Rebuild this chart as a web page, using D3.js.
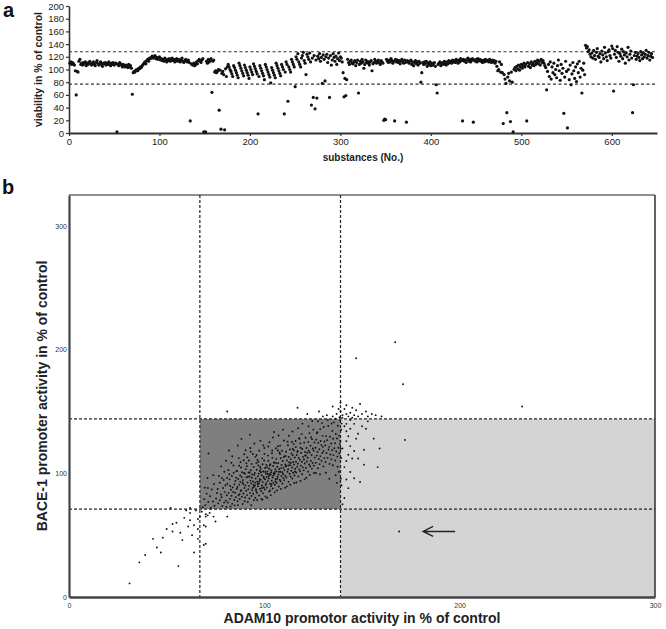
<!DOCTYPE html>
<html><head><meta charset="utf-8">
<script src="https://cdn.jsdelivr.net/npm/d3@7"></script>
<style>body{margin:0;background:#fff}svg{display:block;font-family:"Liberation Sans",Arial,sans-serif}</style>
</head><body><svg id="c" width="666" height="629"></svg>
<script>
// ---------- Panel a data ----------
const viability = [
110,112,108,111,109,107,98,60,97,96,113,116,108,110,107,111,109,112,106,110,
108,111,113,109,107,110,112,108,106,111,114,109,107,110,112,108,105,110,109,111,
107,110,108,112,109,106,110,108,111,107,109,110,2,108,106,111,109,107,104,108,
106,104,107,105,103,108,104,106,102,61,95,97,96,99,100,98,102,101,104,103,
106,108,110,112,109,114,116,113,118,117,119,121,118,120,122,117,119,116,118,120,
115,117,114,116,113,118,115,112,116,114,117,113,115,118,114,116,112,115,117,113,
114,116,112,115,118,113,111,114,116,113,112,115,111,19,109,108,107,110,106,108,
112,109,114,116,113,111,115,117,2,1,2,113,110,116,112,114,117,64,113,115,
96,98,95,97,100,36,99,6,94,97,92,5,101,89,104,
108,104,100,97,93,89,106,103,99,95,91,87,110,106,102,98,94,90,107,103,99,95,91,86,104,
100,96,92,109,105,101,97,93,30,89,106,102,98,94,90,84,108,104,100,96,92,88,79,103,99,
95,91,87,110,106,102,98,94,90,108,104,100,30,96,112,108,50,104,100,96,116,112,108,104,73,
120,116,125,112,108,104,118,122,127,114,110,92,124,120,116,126,112,44,118,56,122,38,115,55,121,
117,125,113,119,78,123,116,82,120,124,111,118,56,122,107,115,125,119,113,121,108,117,126,114,120,
118,112,95,57,86,59,84,116,111,108,113,115,110,109,112,114,106,111,115,63,108,113,110,116,112,
102,108,115,111,113,110,107,112,114,98,109,111,116,113,110,112,115,111,108,114,112,110,20,22,21,
116,113,111,115,112,117,114,110,113,19,116,112,115,111,114,109,113,116,112,110,115,111,17,114,112,
110,113,115,108,112,106,111,114,109,112,107,113,110,80,95,111,108,112,109,113,105,110,108,112,106,
110,107,109,111,105,76,63,108,110,112,106,109,111,108,113,110,107,112,109,114,111,113,110,115,112,
114,111,116,113,110,115,112,117,114,19,116,113,115,111,116,118,113,116,112,114,117,17,115,113,116,
112,117,114,116,113,115,111,114,112,116,113,115,114,112,116,113,111,115,112,114,110,113,105,98,100,
112,96,108,95,15,92,85,78,32,88,94,82,18,96,80,2,100,103,98,105,101,107,99,104,108,
102,106,110,104,108,19,111,105,109,103,112,107,110,106,113,108,111,115,109,113,107,116,111,114,110,
106,103,68,97,108,89,112,85,104,95,110,92,100,87,106,115,98,83,108,94,102,31,88,113,97,
8,100,84,107,76,93,111,98,86,104,81,109,95,113,88,102,63,99,110,92,138,134,136,128,131,
124,120,126,118,130,122,116,127,133,121,119,125,112,129,123,117,135,126,120,114,128,131,122,118,137,
133,66,124,130,119,136,127,113,125,121,132,117,128,123,110,126,120,135,115,124,129,118,32,76,122,
127,116,121,125,119,114,128,123,117,126,120,124,130,118,122,127,115,121,125,119
];
const viabilityCutoffs = [77, 128];
const viaYTicks = [0,20,40,60,80,100,120,140,160,180,200];
const subXTicks = [0,100,200,300,400,500,600];

// ---------- Panel b data: [ADAM10 %, BACE-1 %] ----------
const clusterPoints = [
[68.4,72.5],[69.2,79.1],[69.8,74.3],[70.5,83.6],[71.3,76.8],[71.1,88.2],[72.6,71.9],[72.2,81.4],[73.7,77.2],[73.1,86.9],[74.5,73.8],[74.2,91.3],[75.3,79.6],[75.8,84.1],[70.9,96.2],[71.4,116],[69.5,88.4],[73.9,98.5],
[76.4,75.7],[76.1,87.3],[77.3,78.2],[77.8,82.9],[77.2,92.4],[78.5,73.6],[78.1,80.7],[78.9,88.1],[79.4,76.3],[79.7,84.8],[79.2,94.6],[80.3,77.9],[80.8,82.2],[80.1,90.4],[76.7,97.9],[78.3,96.1],[80.6,72.8],[79.5,101.3],[77.9,105.6],[80.4,110.2],
[81.3,76.4],[81.7,84.2],[81.1,91.6],[82.4,79.3],[82.9,86.7],[82.2,95.1],[83.5,75.3],[83.2,81.9],[83.8,88.6],[83.4,97.8],[84.6,78.4],[84.1,84.9],[84.7,91.2],[84.3,100.4],[85.4,80.6],[85.9,87.4],[85.2,93.8],[81.6,102.7],[82.7,73.2],[83.1,108.5],[84.8,74.1],[85.6,96.5],[82.5,89.7],[80.9,96.3],[85.1,84.2],[84.2,106.3],[83.6,113.8],[81.9,118.4],[85.7,101.9],[82.1,99.2],
[86.3,77.5],[86.8,82.3],[86.2,88.9],[86.6,95.4],[86.1,101.8],[87.4,79.2],[87.9,85.6],[87.2,90.7],[87.6,98.3],[87.1,106.2],[88.5,81.1],[88.2,86.4],[88.8,92.6],[88.4,97.1],[88.9,75.2],[89.3,83.7],[89.8,88.2],[89.1,94.5],[89.6,100.3],[89.4,110.6],[90.2,80.4],[90.7,85.9],[90.3,90.2],[90.9,96.7],[90.5,103.4],[86.9,112.3],[88.1,104.7],[87.7,93.1],[89.9,77.4],[90.4,118.6],[86.5,74.3],[88.6,100.9],[89.2,91.3],[90.1,99.6],[87.3,83.2],[86.4,122.5],[88.3,127.8],[90.8,108.1],[89.7,115.4],[87.8,109.2],
[91.2,82.4],[91.8,87.1],[91.4,92.6],[91.6,97.3],[91.1,105.8],[92.3,79.6],[92.7,84.2],[92.2,89.8],[92.9,94.1],[92.5,100.7],[92.1,110.3],[93.4,81.7],[93.8,86.3],[93.2,91.9],[93.6,96.4],[93.1,102.5],[93.9,88.2],[94.3,83.5],[94.7,88.9],[94.2,93.4],[94.8,98.7],[94.5,105.2],[94.1,115.6],[95.4,80.3],[95.8,85.7],[95.2,90.1],[95.6,95.8],[95.1,100.2],[95.9,108.4],[91.5,76.8],[93.3,74.2],[94.6,78.3],[92.8,120.4],[95.3,92.5],[93.7,99.1],[91.9,100.6],[94.4,90.7],[95.7,87.2],[92.4,97.4],[93.5,107.6],[91.3,112.9],[94.9,124.1],[92.6,131.2],[95.5,113.3],[93.0,117.5],
[96.2,84.3],[96.8,89.6],[96.4,93.2],[96.7,97.5],[96.1,102.9],[96.5,110.7],[97.3,82.1],[97.8,87.4],[97.2,91.8],[97.6,95.3],[97.1,99.7],[97.9,105.2],[98.4,85.5],[98.8,90.2],[98.2,94.7],[98.6,98.4],[98.1,103.6],[98.9,112.1],[99.3,83.8],[99.7,88.5],[99.2,92.9],[99.8,96.1],[99.4,101.5],[99.1,107.3],[100.2,86.9],[100.7,90.6],[100.3,95.2],[100.8,99.8],[100.4,104.3],[100.1,115.7],[96.3,78.4],[98.5,79.2],[100.6,81.3],[97.4,118.2],[99.5,122.6],[96.9,106.4],[98.3,100.8],[99.6,97.3],[100.9,92.1],[97.5,93.6],[98.7,88.1],[99.9,110.4],[100.5,101.2],[96.6,91.4],[97.7,101.9],[98.0,126.3],[96.0,114.8],[100.0,120.5],[99.0,78.6],[97.0,109.1],
[101.3,88.4],[101.8,93.7],[101.2,97.1],[101.6,101.4],[101.1,106.8],[102.4,85.2],[102.9,91.5],[102.2,95.9],[102.7,99.3],[102.5,103.7],[102.1,110.2],[103.4,89.6],[103.8,94.1],[103.2,98.8],[103.6,102.3],[103.1,107.4],[103.9,116.2],[104.3,87.7],[104.7,92.3],[104.2,96.6],[104.8,100.1],[104.5,105.9],[104.1,112.5],[105.4,90.8],[105.8,95.3],[105.2,99.4],[105.6,103.2],[105.1,108.7],[105.9,120.3],[101.5,80.2],[103.3,82.4],[105.3,84.6],[102.6,125.1],[104.4,128.9],[101.9,114.3],[103.5,100.6],[104.6,98.2],[105.7,93.5],[102.3,97.8],[101.4,104.9],[103.7,91.2],[104.9,108.6],[105.5,101.1],[102.8,106.3],[101.7,99.5],[104.0,118.4],[102.0,121.7],[105.0,133.4],[103.0,86.1],
[106.3,92.4],[106.8,97.2],[106.2,101.6],[106.6,105.3],[106.1,111.7],[107.4,89.3],[107.9,94.8],[107.2,99.1],[107.6,103.5],[107.1,108.2],[107.8,116.9],[108.3,93.6],[108.7,97.9],[108.2,101.3],[108.8,106.7],[108.4,112.2],[108.1,122.4],[109.3,91.7],[109.7,96.2],[109.2,100.8],[109.8,104.4],[109.4,109.9],[109.1,118.3],[110.2,94.5],[110.7,98.1],[110.3,102.6],[110.8,107.2],[110.4,113.8],[110.1,126.5],[106.4,86.2],[108.5,87.4],[110.6,88.3],[107.3,130.6],[109.5,135.2],[106.9,118.7],[108.6,104.2],[109.6,99.4],[110.9,105.7],[107.5,101.3],[106.5,95.6],[108.0,115.7],[107.0,121.9],[109.9,113.1],[106.0,108.4],
[111.3,96.7],[111.8,101.2],[111.2,105.8],[111.6,110.3],[111.1,117.4],[112.4,93.1],[112.9,99.6],[112.2,103.3],[112.7,108.9],[112.5,113.2],[112.1,122.7],[113.4,97.4],[113.8,102.1],[113.2,106.6],[113.6,111.5],[113.1,119.3],[114.3,95.8],[114.7,100.4],[114.2,104.7],[114.8,109.2],[114.5,114.6],[114.1,125.3],[115.4,98.2],[115.8,103.7],[115.2,107.1],[115.6,112.8],[115.1,118.5],[111.5,89.4],[113.3,90.7],[115.3,92.2],[112.6,130.4],[114.4,133.8],[111.9,125.6],[113.5,108.3],[115.7,101.5],[114.6,119.7],[112.3,106.4],[113.9,116.1],[111.0,113.9],[115.0,123.6],
[116.3,100.6],[116.8,105.4],[116.2,109.3],[116.6,114.8],[116.1,121.2],[117.4,97.5],[117.9,103.2],[117.2,107.8],[117.6,112.4],[117.1,118.1],[117.8,128.3],[118.3,101.7],[118.7,106.2],[118.2,110.9],[118.8,116.5],[118.4,124.2],[119.3,99.2],[119.7,104.8],[119.2,109.4],[119.8,113.3],[119.4,119.6],[119.1,131.7],[120.2,102.4],[120.7,107.9],[120.3,111.2],[120.8,117.3],[120.4,124.8],[116.4,92.6],[118.5,93.8],[120.6,95.1],[117.3,136.4],[119.5,140.2],[118.6,120.7],[116.9,117.2],[120.9,114.5],[118.0,127.9],[116.0,126.1],
[121.3,104.3],[121.8,109.6],[121.2,114.2],[121.6,120.4],[121.1,128.7],[122.4,101.3],[122.9,107.2],[122.2,112.6],[122.7,118.3],[122.5,125.4],[123.4,105.7],[123.8,110.1],[123.2,116.8],[123.6,122.3],[123.1,132.5],[124.3,103.8],[124.7,108.4],[124.2,114.9],[124.8,120.1],[124.4,127.6],[125.3,106.2],[125.8,112.7],[125.2,118.4],[125.6,124.9],[125.1,135.3],[121.5,96.4],[123.3,98.7],[125.4,100.2],[122.6,138.1],[124.5,142.3],[121.9,116.7],[123.9,129.2],
[126.3,108.5],[126.8,114.3],[126.2,120.7],[126.6,127.2],[127.4,104.1],[127.9,111.6],[127.2,117.3],[127.6,124.6],[127.1,133.2],[128.3,107.4],[128.7,113.9],[128.2,119.5],[128.8,126.1],[129.3,110.2],[129.7,116.4],[129.2,122.8],[129.8,130.3],[130.2,105.6],[130.7,112.3],[130.3,118.1],[130.8,125.7],[130.4,137.4],[126.4,100.3],[128.5,99.2],[129.5,140.6],[127.5,142.1],[126.9,132.4],[128.6,135.7],[130.0,121.4],
[131.3,109.2],[131.8,116.4],[131.2,122.7],[131.6,130.1],[132.4,112.5],[132.9,119.3],[132.2,126.8],[132.7,138.2],[133.4,107.6],[133.8,115.2],[133.2,121.4],[133.6,129.5],[134.3,111.3],[134.7,118.6],[134.2,124.1],[134.8,134.3],[135.4,114.7],[135.8,120.2],[135.2,127.9],[135.6,141.2],[131.5,100.4],[133.3,95.6],[132.5,143.1],[134.4,140.3],[135.1,106.5],
[136.3,110.4],[136.8,117.6],[136.2,124.3],[136.6,131.8],[137.4,113.5],[137.9,120.7],[137.2,128.2],[137.6,138.4],[138.3,116.1],[138.7,123.6],[138.2,130.5],[138.8,142.6],[139.3,112.4],[139.1,119.8],[138.9,126.3],[139.4,135.2],[136.4,144.1],[138.5,145.3],[139.6,140.2],[137.5,105.3],[136.5,98.4],[138.1,101.2],[139.2,95.7],[137.1,92.3],[139.5,90.4]
];
const tailPoints = [
[31,11],[36,28],[39,34],[47,36],[43,47],[48,48],[50,55],[53,59],[55,60],[53,53],[58,46],[56,25],[64,36],[61,57],[62,62],[62,68],[60,70],[62,72],[52,72],[64,58],[66,55],[67,65],[69,58],[69,42],[71,66],[75,61],[70,43],[81,65],[70,65],[70,67],[70,57],[66,63],[65,70],[68,69],[72,68],[74,65],[45,40],[57,52],[63,50],[59,64],[66,47],
[81,150],[117,153],[135,154],[142,155],[149,156],[130,146],[132,147],[135,146],[137,148],[139,150],[140,147],[141,152],[143,146],[144,149],[145,153],[146,147],[147,151],[148,146],[150,148],[152,150],[153,146],[155,148],[157,147],[139,157],[140,145],[142,148],[145,145],[138,152],[160,146],[122,148],[128,150],
[141,138],[142,134],[143,130],[144,136],[146,140],[148,132],[150,138],[152,136],[153,142],[142,126],[144,122],[146,118],[142,110],[143,115],[145,112],[144,101],[142,95],[146,96],[149,93],[151,119],[151,107],[158,105],[159,120],[172,127],[140,120],[141,105],[143,88],[142,140],[144,143],[147,128],[156,128],[148,112],[141,80],[140,75],
[147,193],[167,206],[171,172],[232,154],[169,53]
];
const adamCutoffs = [67, 139];
const baceCutoffs = [71, 144];
const bTicks = [0,100,200,300];
const arrowTarget = [169, 53];

const svg = d3.select("#c");
const FONT = '"Liberation Sans",Arial,sans-serif';

// ================= Panel a =================
const xa = d3.scaleLinear().domain([0,650]).range([69,657]);
const ya = d3.scaleLinear().domain([0,200]).range([133,6]);
const ga = svg.append("g");

ga.selectAll("line.cut").data(viabilityCutoffs).join("line")
  .attr("x1", xa(0)).attr("x2", xa(650))
  .attr("y1", d=>ya(d)).attr("y2", d=>ya(d))
  .attr("stroke","#333").attr("stroke-width",1.1).attr("stroke-dasharray","3,2.5");

const ayA = ga.append("g").attr("transform",`translate(${xa(0)},0)`)
  .call(d3.axisLeft(ya).tickValues(viaYTicks).tickSize(3).tickSizeOuter(0).tickPadding(2));
ayA.selectAll("text").attr("font-size",9.5).attr("font-family",FONT).attr("fill","#222");
ayA.select(".domain").attr("stroke","#333").attr("stroke-width",1.6);
ayA.selectAll(".tick line").attr("stroke","#333").attr("stroke-width",1.2);

const axA = ga.append("g").attr("transform",`translate(0,${ya(0)})`)
  .call(d3.axisBottom(xa).tickValues(subXTicks).tickSize(3).tickSizeOuter(0).tickPadding(2));
axA.selectAll("text").attr("font-size",9.5).attr("font-family",FONT).attr("fill","#222");
axA.select(".domain").attr("stroke","#333").attr("stroke-width",2);
axA.selectAll(".tick line").attr("stroke","#333").attr("stroke-width",1.2);

ga.selectAll("circle").data(viability).join("circle")
  .attr("cx",(d,i)=>xa(i+1)).attr("cy",d=>ya(d)).attr("r",1.6).attr("fill","#111");

ga.append("text").attr("transform",`translate(42,${(ya(0)+ya(200))/2}) rotate(-90)`)
  .attr("text-anchor","middle").attr("font-size",10.5).attr("font-weight","bold")
  .attr("font-family",FONT).attr("fill","#222").text("viability in % of control");
ga.append("text").attr("x",(xa(0)+xa(650))/2).attr("y",161)
  .attr("text-anchor","middle").attr("font-size",10).attr("font-weight","bold")
  .attr("font-family",FONT).attr("fill","#222").text("substances (No.)");
svg.append("text").attr("x",3).attr("y",17).attr("font-size",20).attr("font-weight","bold")
  .attr("font-family",FONT).attr("fill","#111").text("a");

// ================= Panel b =================
const xb = d3.scaleLinear().domain([0,300]).range([69,655]);
const yb = d3.scaleLinear().domain([0,325]).range([597,195]);
const gb = svg.append("g");

gb.append("rect").attr("x",xb(adamCutoffs[1])).attr("y",yb(baceCutoffs[1]))
  .attr("width",xb(300)-xb(adamCutoffs[1])).attr("height",yb(0)-yb(baceCutoffs[1]))
  .attr("fill","#d4d4d4");
gb.append("rect").attr("x",xb(adamCutoffs[0])).attr("y",yb(baceCutoffs[1]))
  .attr("width",xb(adamCutoffs[1])-xb(adamCutoffs[0])).attr("height",yb(baceCutoffs[0])-yb(baceCutoffs[1]))
  .attr("fill","#7f7f7f");

gb.append("line").attr("x1",xb(0)).attr("x2",xb(300)).attr("y1",yb(325)).attr("y2",yb(325))
  .attr("stroke","#222").attr("stroke-width",1.2);
gb.append("line").attr("x1",xb(300)).attr("x2",xb(300)).attr("y1",yb(325)).attr("y2",yb(0))
  .attr("stroke","#222").attr("stroke-width",1.4);

gb.selectAll("line.vc").data(adamCutoffs).join("line")
  .attr("x1",d=>xb(d)).attr("x2",d=>xb(d)).attr("y1",yb(325)).attr("y2",yb(0))
  .attr("stroke","#222").attr("stroke-width",1.2).attr("stroke-dasharray","3,2");
gb.selectAll("line.hc").data(baceCutoffs).join("line")
  .attr("x1",xb(0)).attr("x2",xb(300)).attr("y1",d=>yb(d)).attr("y2",d=>yb(d))
  .attr("stroke","#222").attr("stroke-width",1.2).attr("stroke-dasharray","3,2");

gb.selectAll("circle.pt").data(clusterPoints.concat(tailPoints)).join("circle")
  .attr("class","pt")
  .attr("cx",d=>xb(d[0])).attr("cy",d=>yb(d[1])).attr("r",0.95).attr("fill","#111");

const ayB = gb.append("g").attr("transform",`translate(${xb(0)},0)`)
  .call(d3.axisLeft(yb).tickValues(bTicks).tickSize(0).tickPadding(2));
ayB.selectAll("text").attr("font-size",7).attr("font-family",FONT).attr("fill","#333");
ayB.select(".domain").attr("stroke","#444").attr("stroke-width",2.2);

const axB = gb.append("g").attr("transform",`translate(0,${yb(0)})`)
  .call(d3.axisBottom(xb).tickValues(bTicks).tickSize(0).tickPadding(6));
axB.selectAll("text").attr("font-size",7).attr("font-family",FONT).attr("fill","#333");
axB.select(".domain").attr("stroke","#444").attr("stroke-width",2.6);

const ax0 = xb(arrowTarget[0]) + 24, ay0 = yb(arrowTarget[1]);
gb.append("path")
  .attr("d",`M${ax0+32},${ay0}H${ax0} M${ax0+10},${ay0-5}L${ax0},${ay0}L${ax0+10},${ay0+5}`)
  .attr("fill","none").attr("stroke","#222").attr("stroke-width",1.4);

gb.append("text").attr("transform",`translate(47,${(yb(0)+yb(325))/2}) rotate(-90)`)
  .attr("text-anchor","middle").attr("font-size",14).attr("font-weight","bold")
  .attr("font-family",FONT).attr("fill","#222").text("BACE-1 promoter activity in % of control");
gb.append("text").attr("x",(xb(0)+xb(300))/2).attr("y",623)
  .attr("text-anchor","middle").attr("font-size",14).attr("font-weight","bold")
  .attr("font-family",FONT).attr("fill","#222").text("ADAM10 promotor activity in % of control");
svg.append("text").attr("x",2).attr("y",194).attr("font-size",20).attr("font-weight","bold")
  .attr("font-family",FONT).attr("fill","#111").text("b");
</script></body></html>
